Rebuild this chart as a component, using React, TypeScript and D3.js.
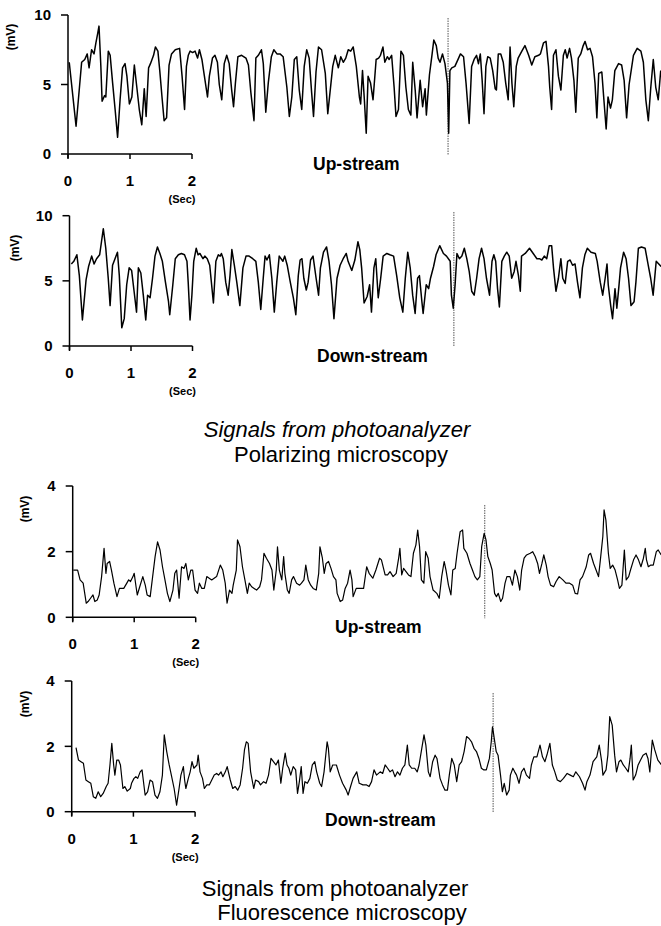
import React from "react";
import * as d3 from "d3";

// signal traces, [time (s), value (mV)]
const polUp: [number, number][] = [
  [0.02,6.6],[0.13,2.0],[0.22,6.6],[0.27,6.8],[0.31,7.2],[0.34,6.2],[0.38,7.5],[0.42,7.2],[0.45,8.0],[0.48,8.7],[0.50,9.2],[0.53,6.3],[0.55,3.8],[0.59,4.2],[0.61,4.1],[0.65,7.4],[0.68,7.1],[0.72,5.1],[0.76,3.2],[0.80,1.2],[0.84,3.9],[0.88,6.2],[0.92,6.5],[0.95,5.6],[0.99,3.6],[1.03,4.1],[1.07,6.4],[1.11,4.8],[1.15,3.2],[1.19,2.1],[1.23,4.7],[1.26,2.7],[1.30,6.2],[1.33,6.5],[1.38,7.1],[1.41,7.7],[1.45,7.4],[1.48,6.0],[1.52,3.9],[1.55,2.4],[1.59,2.6],[1.63,6.4],[1.67,7.2],[1.73,7.5],[1.80,7.6],[1.84,5.6],[1.88,3.2],[1.91,6.3],[1.94,7.1],[1.97,7.4],[2.01,7.3],[2.05,7.4],[2.09,6.9],[2.12,7.5],[2.16,6.8],[2.20,5.6],[2.25,4.1],[2.28,5.6],[2.33,6.9],[2.37,7.1],[2.41,6.6],[2.44,5.0],[2.48,3.9],[2.52,6.5],[2.56,7.1],[2.60,6.5],[2.64,4.6],[2.67,3.4],[2.70,5.1],[2.74,7.0],[2.80,7.1],[2.87,6.9],[2.91,6.4],[2.95,4.4],[3.00,2.4],[3.03,6.9],[3.07,7.1],[3.12,7.5],[3.15,6.5],[3.19,3.0],[3.23,5.1],[3.28,7.0],[3.32,7.5],[3.37,7.2],[3.42,7.2],[3.47,7.0],[3.53,4.8],[3.57,2.7],[3.61,4.1],[3.65,6.8],[3.69,7.0],[3.73,4.6],[3.77,3.2],[3.81,6.3],[3.85,7.5],[3.89,6.9],[3.93,4.4],[3.96,2.7],[4.00,5.9],[4.04,7.7],[4.09,7.5],[4.15,5.8],[4.19,2.9],[4.27,6.3],[4.31,7.1],[4.36,6.2],[4.40,7.0],[4.44,6.6],[4.48,6.9],[4.52,7.5],[4.56,7.4],[4.60,7.7],[4.65,6.3],[4.70,4.1],[4.72,3.6],[4.75,6.0],[4.78,3.9],[4.81,1.5],[4.84,5.6],[4.88,5.1],[4.92,3.9],[4.97,6.8],[5.01,6.9],[5.04,7.1],[5.08,7.7],[5.11,6.6],[5.15,7.0],[5.18,6.8],[5.22,7.1],[5.26,4.8],[5.29,2.7],[5.33,3.2],[5.37,7.4],[5.41,7.1],[5.45,4.8],[5.49,3.2],[5.53,2.8],[5.56,6.6],[5.60,4.6],[5.63,2.6],[5.68,5.3],[5.72,3.4],[5.76,4.7],[5.78,2.8],[5.83,5.7],[5.87,7.1],[5.90,8.2],[5.94,7.8],[5.97,6.9],[6.00,6.6],[6.04,7.2],[6.08,6.5],[6.12,5.1],[6.14,1.5],[6.16,6.0],[6.19,6.2],[6.24,6.3],[6.30,6.9],[6.33,7.2],[6.38,7.0],[6.42,5.1],[6.47,2.2],[6.51,6.3],[6.55,6.8],[6.59,7.1],[6.62,6.5],[6.65,7.2],[6.68,5.3],[6.71,2.9],[6.74,6.3],[6.77,7.0],[6.81,6.9],[6.85,6.0],[6.89,4.7],[6.91,4.6],[6.94,7.2],[6.98,7.2],[7.02,6.6],[7.06,5.1],[7.10,3.9],[7.13,7.7],[7.16,5.1],[7.19,3.4],[7.23,6.3],[7.26,6.9],[7.32,7.4],[7.37,7.8],[7.43,7.1],[7.48,6.4],[7.53,7.0],[7.59,7.1],[7.62,7.2],[7.67,8.0],[7.71,8.1],[7.75,6.3],[7.77,4.8],[7.80,3.2],[7.83,7.1],[7.87,7.5],[7.91,5.6],[7.95,4.6],[7.99,7.1],[8.02,7.5],[8.05,6.9],[8.09,7.6],[8.12,6.9],[8.16,5.3],[8.19,3.0],[8.23,6.9],[8.27,7.2],[8.31,7.8],[8.34,8.1],[8.38,7.5],[8.42,7.6],[8.46,7.0],[8.50,5.1],[8.53,2.6],[8.56,5.8],[8.61,5.9],[8.64,4.1],[8.68,1.8],[8.71,4.1],[8.75,3.3],[8.78,3.9],[8.82,6.0],[8.88,6.5],[8.93,6.4],[8.97,5.3],[9.01,2.6],[9.05,5.0],[9.12,7.1],[9.18,7.6],[9.24,7.4],[9.28,6.6],[9.32,3.9],[9.36,2.4],[9.40,4.8],[9.44,6.8],[9.48,4.8],[9.52,3.9],[9.56,6.0],
];

const polDown: [number, number][] = [
  [0.03,6.3],[0.07,6.5],[0.12,7.0],[0.16,5.4],[0.21,2.0],[0.27,5.1],[0.31,6.1],[0.36,6.9],[0.40,6.3],[0.44,6.7],[0.49,7.0],[0.52,8.0],[0.55,9.0],[0.59,7.5],[0.63,5.2],[0.66,3.1],[0.70,6.2],[0.74,6.7],[0.78,7.2],[0.81,5.4],[0.85,1.4],[0.89,2.1],[0.93,4.7],[0.97,6.0],[1.01,5.8],[1.05,4.2],[1.09,2.6],[1.12,6.0],[1.16,5.6],[1.20,3.9],[1.24,2.0],[1.27,3.9],[1.31,3.7],[1.35,5.2],[1.39,6.9],[1.43,7.6],[1.47,7.1],[1.51,6.5],[1.56,4.9],[1.61,3.4],[1.63,2.4],[1.68,4.7],[1.72,6.7],[1.77,7.0],[1.82,7.1],[1.87,7.0],[1.91,6.5],[1.93,4.9],[1.96,2.0],[1.99,3.9],[2.02,6.5],[2.06,7.5],[2.09,7.0],[2.12,7.1],[2.17,6.7],[2.20,6.9],[2.24,6.7],[2.28,6.2],[2.34,3.3],[2.38,6.5],[2.42,7.0],[2.45,6.9],[2.47,7.1],[2.50,6.7],[2.54,4.9],[2.58,3.9],[2.61,5.4],[2.64,7.4],[2.68,6.2],[2.72,4.9],[2.77,3.1],[2.82,6.0],[2.87,6.9],[2.92,6.9],[2.98,6.7],[3.03,6.5],[3.07,4.9],[3.11,2.8],[3.15,5.2],[3.18,6.9],[3.21,6.6],[3.25,7.0],[3.29,5.2],[3.33,2.6],[3.37,4.9],[3.41,6.9],[3.47,6.5],[3.50,6.9],[3.54,6.2],[3.59,4.9],[3.64,3.7],[3.68,2.4],[3.72,5.4],[3.75,6.6],[3.78,6.7],[3.81,5.2],[3.85,4.3],[3.88,4.9],[3.92,6.6],[3.96,6.9],[4.01,5.2],[4.05,3.9],[4.08,6.0],[4.13,7.2],[4.18,7.6],[4.22,6.5],[4.26,4.7],[4.30,2.1],[4.35,5.2],[4.40,6.2],[4.45,6.7],[4.50,7.1],[4.53,6.5],[4.59,5.8],[4.64,6.6],[4.69,8.0],[4.72,7.4],[4.75,6.0],[4.79,3.3],[4.84,3.8],[4.88,4.7],[4.91,2.6],[4.95,6.0],[4.98,6.7],[5.02,3.7],[5.06,5.2],[5.10,6.9],[5.16,7.1],[5.21,7.0],[5.27,6.9],[5.32,5.4],[5.37,3.7],[5.42,2.6],[5.46,5.2],[5.50,7.2],[5.54,6.0],[5.58,3.9],[5.62,2.5],[5.66,5.2],[5.69,5.4],[5.73,3.4],[5.75,2.5],[5.80,4.7],[5.84,4.4],[5.87,5.2],[5.92,6.1],[5.96,7.0],[6.02,7.7],[6.08,7.1],[6.13,6.9],[6.19,6.5],[6.21,3.9],[6.24,2.9],[6.27,4.7],[6.30,7.1],[6.34,6.7],[6.38,6.9],[6.42,7.5],[6.46,6.7],[6.50,5.7],[6.54,4.2],[6.58,3.9],[6.62,5.2],[6.66,6.7],[6.70,7.5],[6.74,6.7],[6.78,5.2],[6.83,3.9],[6.87,6.5],[6.90,7.0],[6.93,6.5],[6.96,4.4],[6.99,3.0],[7.03,6.5],[7.07,6.9],[7.11,7.2],[7.15,6.9],[7.19,5.2],[7.23,5.7],[7.26,6.5],[7.30,5.4],[7.33,4.2],[7.35,6.9],[7.41,7.1],[7.48,7.5],[7.54,7.1],[7.60,6.7],[7.64,6.7],[7.68,6.6],[7.72,6.9],[7.76,6.7],[7.80,7.7],[7.84,7.7],[7.87,6.0],[7.91,4.2],[7.95,5.2],[7.99,6.7],[8.02,5.2],[8.06,4.8],[8.10,6.5],[8.14,6.6],[8.18,6.2],[8.22,6.3],[8.26,4.9],[8.30,3.7],[8.34,6.0],[8.38,7.0],[8.42,7.5],[8.48,7.2],[8.55,7.1],[8.58,6.5],[8.63,4.9],[8.67,3.9],[8.71,5.2],[8.74,6.3],[8.76,4.7],[8.80,3.1],[8.83,2.1],[8.87,4.4],[8.90,2.9],[8.93,4.4],[8.96,6.0],[9.01,7.2],[9.05,6.7],[9.09,5.2],[9.13,3.1],[9.18,3.4],[9.21,4.9],[9.25,7.5],[9.30,7.6],[9.36,7.5],[9.41,6.2],[9.45,5.2],[9.49,3.9],[9.54,6.5],[9.62,6.1],
];

const fluoUp: [number, number][] = [
  [0.01,1.44],[0.08,1.44],[0.12,1.14],[0.17,1.04],[0.22,0.43],[0.25,0.48],[0.29,0.58],[0.33,0.68],[0.36,0.48],[0.40,0.53],[0.43,0.68],[0.47,1.24],[0.51,2.10],[0.54,1.34],[0.56,1.64],[0.60,1.70],[0.63,1.44],[0.67,1.04],[0.72,0.63],[0.76,0.88],[0.80,0.88],[0.83,0.88],[0.88,1.04],[0.91,1.14],[0.94,1.09],[0.98,1.24],[1.00,1.34],[1.03,0.93],[1.05,0.68],[1.09,0.93],[1.14,1.24],[1.18,0.98],[1.21,0.68],[1.26,0.63],[1.30,1.24],[1.34,1.85],[1.38,2.30],[1.42,2.05],[1.46,1.54],[1.50,1.14],[1.54,0.73],[1.58,0.48],[1.63,0.83],[1.66,1.34],[1.69,1.44],[1.73,0.58],[1.77,1.54],[1.81,1.49],[1.84,1.64],[1.88,1.14],[1.92,1.44],[1.95,1.44],[1.99,0.83],[2.03,0.73],[2.06,1.04],[2.10,0.88],[2.14,0.88],[2.18,1.24],[2.22,1.19],[2.26,1.14],[2.30,1.19],[2.34,1.24],[2.40,1.59],[2.44,1.44],[2.48,1.04],[2.51,0.43],[2.55,0.83],[2.59,0.73],[2.61,0.98],[2.66,1.44],[2.68,2.36],[2.72,2.15],[2.76,1.54],[2.80,1.14],[2.84,0.73],[2.87,1.04],[2.91,0.93],[2.95,0.88],[2.99,0.83],[3.04,0.93],[3.07,1.14],[3.11,1.95],[3.15,1.80],[3.20,1.64],[3.24,1.44],[3.27,0.83],[3.31,1.44],[3.33,2.15],[3.36,1.44],[3.40,1.14],[3.43,1.85],[3.45,1.34],[3.49,0.83],[3.52,0.73],[3.56,1.14],[3.59,1.24],[3.64,1.04],[3.69,0.98],[3.72,1.04],[3.76,1.14],[3.79,1.59],[3.83,1.14],[3.87,0.98],[3.91,0.88],[3.96,0.83],[4.00,1.34],[4.02,2.15],[4.06,1.80],[4.09,1.34],[4.12,1.64],[4.16,1.70],[4.20,1.49],[4.24,1.24],[4.28,1.14],[4.30,0.73],[4.35,0.48],[4.39,0.53],[4.43,0.88],[4.47,1.04],[4.51,1.44],[4.54,1.14],[4.56,0.63],[4.61,0.88],[4.67,0.88],[4.73,0.88],[4.78,1.54],[4.82,1.34],[4.88,1.19],[4.93,1.44],[4.99,1.80],[5.02,1.75],[5.08,1.29],[5.12,1.29],[5.16,1.39],[5.21,1.24],[5.26,1.34],[5.30,1.80],[5.32,2.10],[5.35,1.29],[5.38,1.49],[5.42,1.39],[5.46,1.29],[5.50,1.24],[5.54,1.95],[5.58,2.20],[5.61,2.66],[5.64,2.15],[5.67,1.14],[5.71,1.04],[5.74,2.00],[5.78,1.80],[5.81,1.24],[5.86,0.83],[5.92,0.73],[5.96,0.58],[6.00,1.24],[6.04,1.70],[6.07,1.44],[6.11,0.98],[6.15,0.68],[6.18,1.44],[6.22,1.49],[6.25,1.95],[6.30,2.61],[6.34,2.66],[6.36,2.10],[6.41,1.95],[6.46,1.64],[6.50,1.44],[6.54,1.24],[6.58,1.14],[6.62,1.24],[6.65,2.15],[6.69,2.56],[6.72,2.36],[6.75,1.85],[6.79,1.64],[6.82,1.44],[6.86,0.73],[6.89,0.63],[6.92,0.73],[6.96,0.48],[6.99,0.58],[7.03,1.04],[7.06,1.24],[7.11,1.24],[7.15,0.98],[7.19,1.44],[7.23,1.24],[7.27,0.83],[7.30,1.44],[7.34,1.80],[7.38,1.90],[7.44,1.95],[7.48,2.00],[7.52,1.85],[7.56,1.64],[7.59,1.34],[7.63,1.64],[7.66,1.90],[7.70,1.59],[7.73,1.24],[7.77,0.98],[7.82,0.93],[7.86,1.09],[7.91,1.24],[7.97,1.14],[8.02,1.04],[8.08,1.04],[8.13,0.98],[8.17,0.73],[8.21,0.71],[8.25,1.14],[8.29,1.24],[8.35,1.54],[8.39,1.90],[8.42,1.95],[8.47,1.64],[8.51,1.44],[8.55,1.24],[8.58,1.75],[8.62,2.46],[8.64,3.27],[8.67,2.96],[8.71,1.95],[8.74,1.49],[8.78,1.59],[8.82,1.44],[8.86,1.14],[8.89,0.88],[8.93,0.98],[8.97,2.05],[9.00,1.14],[9.04,1.24],[9.07,1.44],[9.12,1.75],[9.16,1.90],[9.20,1.75],[9.24,1.54],[9.28,1.80],[9.31,2.10],[9.33,1.75],[9.36,1.54],[9.40,1.59],[9.44,1.59],[9.49,2.00],[9.52,2.05],[9.57,1.90],
];

const fluoDown: [number, number][] = [
  [0.07,1.96],[0.11,1.58],[0.15,1.53],[0.19,1.48],[0.23,0.97],[0.27,0.92],[0.31,0.87],[0.35,0.46],[0.39,0.41],[0.43,0.61],[0.47,0.46],[0.51,0.56],[0.56,0.77],[0.59,0.87],[0.62,1.43],[0.65,2.09],[0.68,1.43],[0.70,1.12],[0.73,1.58],[0.76,1.58],[0.79,1.43],[0.83,0.71],[0.86,0.77],[0.90,0.63],[0.95,0.71],[0.97,0.87],[1.01,1.02],[1.04,1.07],[1.07,1.02],[1.11,1.22],[1.14,1.28],[1.16,0.97],[1.19,0.51],[1.23,0.61],[1.27,0.97],[1.31,0.92],[1.35,0.51],[1.39,0.41],[1.43,0.61],[1.47,1.12],[1.50,2.35],[1.54,1.84],[1.58,1.43],[1.62,1.07],[1.66,0.71],[1.70,0.20],[1.74,0.71],[1.77,1.12],[1.81,1.38],[1.83,0.97],[1.85,0.71],[1.89,1.02],[1.92,1.22],[1.95,1.53],[1.98,1.33],[2.03,1.43],[2.05,1.73],[2.08,1.22],[2.12,1.02],[2.15,0.71],[2.19,0.82],[2.23,0.82],[2.27,0.97],[2.31,1.12],[2.35,1.17],[2.38,1.12],[2.42,1.22],[2.45,1.07],[2.49,1.22],[2.52,1.38],[2.57,0.97],[2.61,0.71],[2.65,0.77],[2.69,0.66],[2.73,0.82],[2.77,1.33],[2.80,1.89],[2.83,2.14],[2.86,2.09],[2.90,1.22],[2.95,0.71],[2.98,0.97],[3.03,0.92],[3.06,0.82],[3.11,0.92],[3.15,0.87],[3.19,1.12],[3.23,1.63],[3.27,1.53],[3.31,1.43],[3.35,1.58],[3.39,0.87],[3.42,1.33],[3.46,1.79],[3.49,1.43],[3.52,1.33],[3.55,1.12],[3.59,1.38],[3.63,1.28],[3.66,0.56],[3.69,0.92],[3.72,1.38],[3.75,0.56],[3.78,0.92],[3.82,0.87],[3.86,1.02],[3.90,1.43],[3.94,1.53],[3.97,1.22],[4.02,0.87],[4.05,0.77],[4.09,1.22],[4.14,2.14],[4.16,1.94],[4.19,1.22],[4.23,1.43],[4.29,1.43],[4.34,1.12],[4.39,0.87],[4.45,0.66],[4.48,0.51],[4.52,0.77],[4.56,1.02],[4.62,1.22],[4.66,0.87],[4.72,0.82],[4.78,0.82],[4.82,0.77],[4.86,0.92],[4.90,1.28],[4.94,1.12],[5.00,1.22],[5.04,1.17],[5.08,1.43],[5.12,1.33],[5.16,1.22],[5.20,1.28],[5.24,1.07],[5.28,1.22],[5.32,1.12],[5.36,1.33],[5.40,1.43],[5.44,2.04],[5.47,1.43],[5.51,1.33],[5.56,1.33],[5.60,1.22],[5.63,1.43],[5.67,1.89],[5.71,2.35],[5.74,2.04],[5.78,1.22],[5.81,1.07],[5.85,1.53],[5.89,1.73],[5.92,1.63],[5.97,1.02],[6.01,0.82],[6.05,0.66],[6.09,0.66],[6.12,1.12],[6.16,1.63],[6.20,1.43],[6.24,0.92],[6.28,1.43],[6.32,1.53],[6.36,1.84],[6.40,2.30],[6.44,2.24],[6.48,2.14],[6.52,1.94],[6.56,1.84],[6.60,1.63],[6.64,1.33],[6.68,1.28],[6.72,1.28],[6.77,1.63],[6.80,2.14],[6.82,2.60],[6.84,2.35],[6.88,1.84],[6.91,1.73],[6.95,1.12],[6.98,0.61],[7.01,0.87],[7.05,0.51],[7.09,0.66],[7.11,1.12],[7.15,1.33],[7.18,1.22],[7.21,1.12],[7.25,0.87],[7.29,1.22],[7.33,1.33],[7.37,1.12],[7.42,1.02],[7.45,1.43],[7.49,1.68],[7.54,1.68],[7.59,2.04],[7.63,1.68],[7.67,1.53],[7.71,1.79],[7.75,2.09],[7.79,1.43],[7.83,1.22],[7.87,0.97],[7.92,0.92],[7.97,1.02],[8.03,1.17],[8.08,1.12],[8.13,1.07],[8.17,1.22],[8.23,1.07],[8.28,0.87],[8.32,0.66],[8.35,0.92],[8.40,1.12],[8.45,1.53],[8.51,1.68],[8.55,2.04],[8.59,1.53],[8.61,1.12],[8.66,1.28],[8.69,1.73],[8.72,2.91],[8.76,2.65],[8.80,1.73],[8.83,1.22],[8.87,1.53],[8.90,1.58],[8.94,1.43],[8.98,1.33],[9.02,1.22],[9.05,1.63],[9.07,2.04],[9.10,0.97],[9.14,1.12],[9.18,1.43],[9.22,1.58],[9.26,1.73],[9.31,1.79],[9.34,1.63],[9.37,1.22],[9.41,2.19],[9.45,1.89],[9.50,1.58],[9.56,1.43],
];

// dotted marker position (s) per panel
const markerTimes = [6.13, 6.25, 6.70, 6.83];
const polTicks = [0, 5, 10];
const fluoTicks = [0, 2, 4];
const timeTicks = [0, 1, 2];
const streamLabels = ["Up-stream", "Down-stream", "Up-stream", "Down-stream"];

// layout per panel (pixels)
const panels = [
  { data: polUp, ticks: polTicks, top: 15, bottom: 154, left: 68, pps: 62, lx: 313, ly: 170, mvx: 11, mvy: 37, mTop: 18, sw: 1.5 },
  { data: polDown, ticks: polTicks, top: 215.7, bottom: 346, left: 69.5, pps: 61.5, lx: 317, ly: 362, mvx: 15, mvy: 248, mTop: 212, sw: 1.5 },
  { data: fluoUp, ticks: fluoTicks, top: 486, bottom: 617.3, left: 72.7, pps: 61.5, lx: 335, ly: 633, mvx: 25, mvy: 509, mTop: 505, sw: 1.2 },
  { data: fluoDown, ticks: fluoTicks, top: 681, bottom: 811.7, left: 71.7, pps: 61.7, lx: 325, ly: 826, mvx: 25, mvy: 704, mTop: 693, sw: 1.2 },
];

const font = "'Liberation Sans', Arial, Helvetica, sans-serif";

function Panel({ p, i }: { p: (typeof panels)[number]; i: number }) {
  const yMax = p.ticks[p.ticks.length - 1];
  const x = d3.scaleLinear().domain([0, 2]).range([p.left, p.left + 2 * p.pps]);
  const y = d3.scaleLinear().domain([0, yMax]).range([p.bottom, p.top]);
  const line = d3.line<[number, number]>().x((d) => x(d[0])).y((d) => y(d[1]));
  const mx = x(markerTimes[i]);
  return (
    <g>
      <line x1={p.left} x2={p.left} y1={p.top} y2={p.bottom + 4} stroke="#000" strokeWidth={1.5} />
      <line x1={p.left} x2={x(2)} y1={p.bottom} y2={p.bottom} stroke="#000" strokeWidth={1.5} />
      {p.ticks.map((t) => (
        <g key={"y" + t}>
          <line x1={p.left - 7} x2={p.left} y1={y(t)} y2={y(t)} stroke="#000" strokeWidth={1.5} />
          <text x={p.left - 17} y={y(t)} dy="0.36em" textAnchor="end" fontSize={15} fontWeight="bold">{t}</text>
        </g>
      ))}
      {timeTicks.map((t) => (
        <g key={"x" + t}>
          <line x1={x(t)} x2={x(t)} y1={p.bottom} y2={p.bottom + 5} stroke="#000" strokeWidth={1.5} />
          <text x={x(t)} y={p.bottom + 32} textAnchor="middle" fontSize={15} fontWeight="bold">{t}</text>
        </g>
      ))}
      <text x={x(2) - 10} y={p.bottom + 49} textAnchor="middle" fontSize={11} fontWeight="bold">(Sec)</text>
      <text transform={`translate(${p.mvx},${p.mvy}) rotate(-90)`} textAnchor="middle" dy="0.35em" fontSize={12} fontWeight="bold">(mV)</text>
      <line x1={mx} x2={mx} y1={p.mTop} y2={p.bottom + 1} stroke="#555" strokeWidth={1} strokeDasharray="1.5,1" />
      <path d={line(p.data) || ""} fill="none" stroke="#000" strokeWidth={p.sw} strokeLinejoin="round" />
      <text x={p.lx} y={p.ly} fontSize={17.5} fontWeight="bold">{streamLabels[i]}</text>
    </g>
  );
}

export default function App() {
  return (
    <svg width={661} height={926} style={{ position: "absolute", left: 0, top: 0, background: "#fff" }} fontFamily={font}>
      {panels.map((p, i) => <Panel key={i} p={p} i={i} />)}
      <text x={337} y={437} textAnchor="middle" fontSize={22} fontStyle="italic">Signals from photoanalyzer</text>
      <text x={341} y={462} textAnchor="middle" fontSize={22}>Polarizing microscopy</text>
      <text x={335} y={896} textAnchor="middle" fontSize={22}>Signals from photoanalyzer</text>
      <text x={342} y={920} textAnchor="middle" fontSize={22}>Fluorescence microscopy</text>
    </svg>
  );
}
